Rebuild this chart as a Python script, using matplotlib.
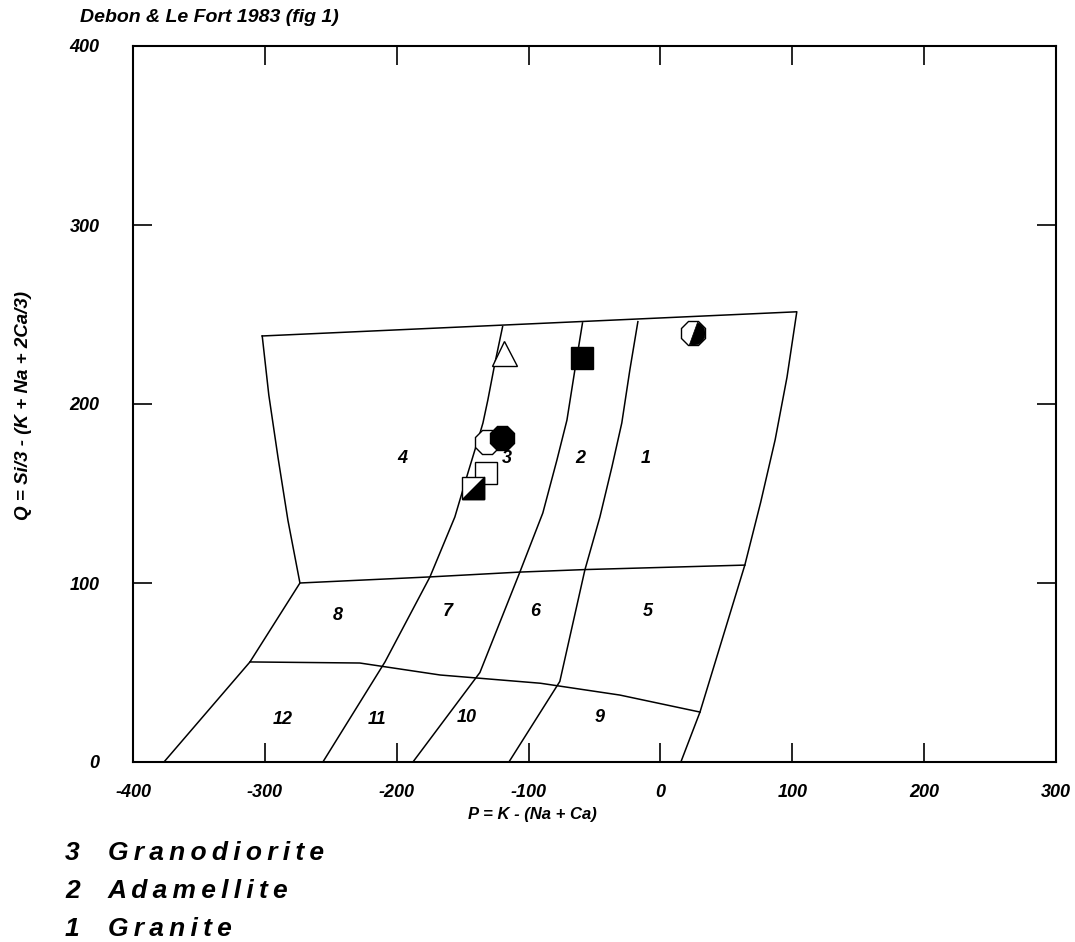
import matplotlib
matplotlib.use("Agg")
import matplotlib.pyplot as plt
import numpy as np
from matplotlib.path import Path

plt.rcParams['font.family'] = ['Liberation Sans', 'DejaVu Sans']

# ---------------- data ----------------
x_ticks = [-400, -300, -200, -100, 0, 100, 200, 300]
y_ticks = [0, 100, 200, 300, 400]

# field boundaries (P, Q)
top_P = [-302, 103]
top_Q = [238, 251.5]

left_P = [-302, -297, -290, -282.5, -273.4, -311.3, -376.5]
left_Q = [238, 205, 170, 135, 100, 55.9, 0]

right_P = [103.4, 96, 87, 76, 64, 30, 15.5]
right_Q = [251.4, 215, 180, 145, 110, 27.9, 0]

b43_P = [-119.7, -125.5, -130.9, -134.6, -138.4, -146, -155.9, -174.8, -208.9, -256]
b43_Q = [243.2, 222.9, 202.2, 189.4, 179.9, 161.5, 136.9, 103.4, 55.9, 0]

b32_P = [-59.1, -64.9, -70.9, -78.5, -89.2, -106.6, -136.9, -187.7]
b32_Q = [245.3, 219, 191, 168.7, 139.1, 106.1, 50, 0]

b21_P = [-17.1, -23.2, -29.3, -36.8, -45.9, -57.3, -76.3, -114.9]
b21_Q = [246, 219, 189.4, 164.8, 136.9, 107.3, 45, 0]

mid_P = [-273.4, -174.8, -106.6, -57.3, 64]
mid_Q = [100, 103.4, 106.1, 107.5, 110]

low_P = [-311.3, -228, -167, -91, -30.8, 30]
low_Q = [55.9, 55.3, 48.6, 44, 37.4, 27.9]

# field numbers
field_labels = ['4', '3', '2', '1', '8', '7', '6', '5', '12', '11', '10', '9']
field_P = [-196, -116.5, -61, -11, -244.6, -161.2, -95.2, -9.6, -286.3, -215, -146.8, -45.9]
field_Q = [169.8, 169.8, 169.8, 169.8, 82, 84, 84, 84, 23.5, 23.5, 24.6, 24.6]

# samples
tri_P, tri_Q = [-118.7], [228.5]
fsq_P, fsq_Q = [-59.6], [225.7]
hci_P, hci_Q = [24.6], [239.7]
oci_P, oci_Q = [-131.6], [178.8]
fci_P, fci_Q = [-120.2], [181.0]
osq_P, osq_Q = [-132.4], [161.5]
hsq_P, hsq_Q = [-142.2], [153.0]

legend_nums = ['3', '2', '1']
legend_names = ['Granodiorite', 'Adamellite', 'Granite']

# ---------------- figure ----------------
fig = plt.figure(figsize=(10.75, 9.42), dpi=100)
ax = fig.add_axes([133/1075, 1 - 762/942, (1056-133)/1075, (762-46)/942])
ax.set_xlim(-400, 300)
ax.set_ylim(0, 400)

lw = 1.1
for P, Q in [(top_P, top_Q), (left_P, left_Q), (right_P, right_Q),
             (b43_P, b43_Q), (b32_P, b32_Q), (b21_P, b21_Q),
             (mid_P, mid_Q), (low_P, low_Q)]:
    ax.plot(P, Q, color='black', lw=lw, solid_joinstyle='round')

fnt = dict(fontweight='bold', fontstyle='italic', fontsize=13)
for t, p, q in zip(field_labels, field_P, field_Q):
    ax.text(p, q, t, ha='center', va='center', **fnt)

ms = 18
mew = 1.0
ax.plot(tri_P, tri_Q, marker='^', ms=ms, mfc='white', mec='black', mew=mew, ls='none')
ax.plot(fsq_P, fsq_Q, marker='s', ms=ms - 2, mfc='black', mec='black', mew=mew, ls='none')
ax.plot(oci_P, oci_Q, marker='8', ms=ms, mfc='white', mec='black', mew=mew, ls='none')
ax.plot(fci_P, fci_Q, marker='8', ms=ms, mfc='black', mec='black', mew=mew, ls='none')
ax.plot(osq_P, osq_Q, marker='s', ms=ms - 2, mfc='white', mec='black', mew=mew, ls='none')

# half-filled square: lower-right triangle filled
tri_path = Path([(-1, -1), (1, -1), (1, 1), (-1, -1)])
ax.plot(hsq_P, hsq_Q, marker='s', ms=ms - 2, mfc='white', mec='black', mew=mew, ls='none')
ax.plot(hsq_P, hsq_Q, marker=tri_path, ms=ms - 2, mfc='black', mec='black', mew=mew, ls='none')

# half-filled octagon: right part filled, diagonal split
ax.plot(hci_P, hci_Q, marker='8', ms=ms, mfc='white', mec='black', mew=mew, ls='none')
ang = np.deg2rad(np.linspace(70, -110, 9))
verts = [(np.cos(a), np.sin(a)) for a in ang]
verts.append(verts[0])
half_path = Path(verts)
ax.plot(hci_P, hci_Q, marker=half_path, ms=ms - 1, mfc='black', mec='black', mew=0.5, ls='none')

# axes styling
for s in ax.spines.values():
    s.set_linewidth(1.5)
ax.set_xticks(x_ticks)
ax.set_xticklabels([str(v) for v in x_ticks])
ax.set_yticks(y_ticks)
ax.set_yticklabels([str(v) for v in y_ticks])
ax.tick_params(direction='in', length=14, width=1.2, top=True, right=True,
               labelsize=13, pad=24)
ax.tick_params(axis='x', pad=16)
for lab in ax.get_xticklabels() + ax.get_yticklabels():
    lab.set_fontweight('bold')
    lab.set_fontstyle('italic')

ax.set_xlabel('P = K - (Na + Ca)', fontsize=12, fontweight='bold', fontstyle='italic')
ax.xaxis.set_label_coords((532 - 133) / 923, -(815 - 762) / 716, transform=ax.transAxes)
ax.xaxis.label.set_va('center')
ax.set_ylabel('Q = Si/3 - (K + Na + 2Ca/3)', fontsize=13.5, fontweight='bold', fontstyle='italic')
ax.yaxis.set_label_coords(-(133 - 24) / 923, (762 - 406) / 716, transform=ax.transAxes)
ax.yaxis.label.set_va('center')

fig.text(80/1075, 1 - 18/942, 'Debon & Le Fort 1983 (fig 1)', fontsize=14,
         fontweight='bold', fontstyle='italic', ha='left', va='center')

for i, (num, name) in enumerate(zip(legend_nums, legend_names)):
    y = 1 - (853 + i * 38)/942
    fig.text(65/1075, y, num, fontsize=19, fontweight='bold',
             fontstyle='italic', ha='left', va='center')
    fig.text(108/1075, y, '\u2009'.join(name), fontsize=19, fontweight='bold',
             fontstyle='italic', ha='left', va='center',
             family=['Liberation Sans', 'DejaVu Sans'])

fig.savefig('out.png', dpi=100)
